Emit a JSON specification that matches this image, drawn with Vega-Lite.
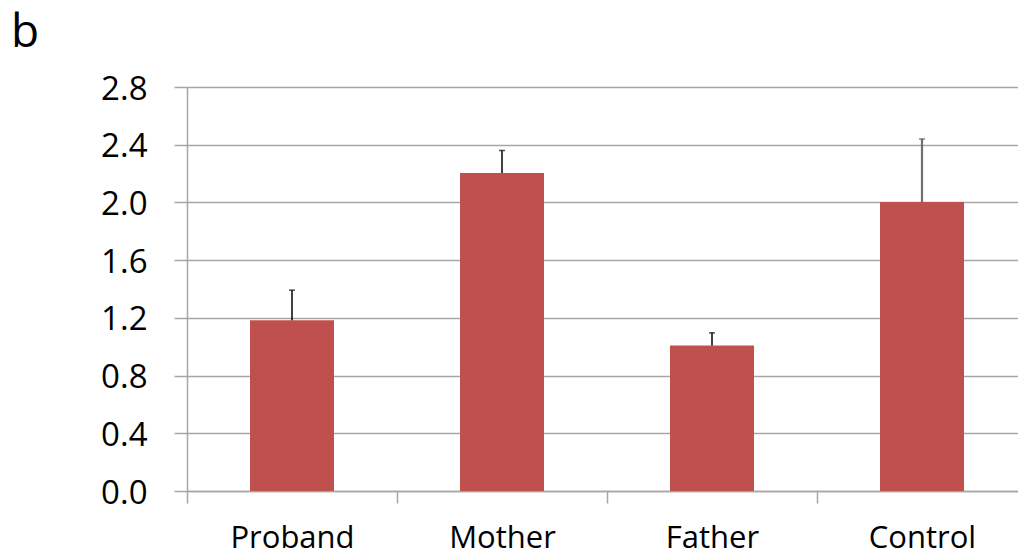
{
  "$schema": "https://vega.github.io/schema/vega-lite/v6.json",
  "autosize": "none",
  "width": 831,
  "height": 404,
  "padding": {"left": 187, "top": 87, "right": 0, "bottom": 63},
  "background": "white",
  "config": {
    "view": {"stroke": null},
    "font": "Open Sans"
  },
  "title": {
    "text": "b",
    "anchor": "start",
    "frame": "group",
    "fontSize": 46,
    "fontWeight": "normal",
    "font": "Open Sans",
    "color": "#000000",
    "offset": 16,
    "dx": -176
  },
  "data": {
    "values": [
      {"group": "Proband", "value": 1.184, "upper": 1.392},
      {"group": "Mother", "value": 2.204, "upper": 2.36},
      {"group": "Father", "value": 1.009, "upper": 1.096},
      {"group": "Control", "value": 2.003, "upper": 2.44}
    ]
  },
  "encoding": {
    "x": {
      "field": "group",
      "type": "nominal",
      "sort": null,
      "scale": {"range": [0, 840], "paddingInner": 0, "paddingOuter": 0},
      "axis": {
        "title": null,
        "labelAngle": 0,
        "labelFontSize": 31,
        "labelColor": "#000000",
        "labelPadding": 20,
        "tickBand": "extent",
        "tickSize": 12,
        "tickColor": "#a6a6a6",
        "tickWidth": 1.5,
        "domainColor": "#a6a6a6",
        "domainWidth": 1.5,
        "grid": false
      }
    }
  },
  "layer": [
    {
      "mark": {"type": "bar", "color": "#C0504D", "width": {"band": 0.4}},
      "encoding": {
        "y": {
          "field": "value",
          "type": "quantitative",
          "scale": {"domain": [0, 2.8], "nice": false},
          "axis": {
            "title": null,
            "values": [0, 0.4, 0.8, 1.2, 1.6, 2.0, 2.4, 2.8],
            "format": ".1f",
            "labelFontSize": 33,
            "labelColor": "#000000",
            "labelPadding": 27,
            "labelOffset": 2,
            "tickSize": 13,
            "tickColor": "#a6a6a6",
            "tickWidth": 1.5,
            "domainColor": "#a6a6a6",
            "domainWidth": 1.5,
            "grid": true,
            "gridColor": "#a6a6a6",
            "gridWidth": 1.5
          }
        }
      }
    },
    {
      "mark": {"type": "rule"},
      "encoding": {
        "y": {"field": "value", "type": "quantitative"},
        "y2": {"field": "upper"},
        "color": {
          "condition": {"test": "datum.group === 'Control'", "value": "#707070"},
          "value": "#000000"
        },
        "strokeWidth": {
          "condition": {"test": "datum.group === 'Control'", "value": 2.2},
          "value": 1.5
        }
      }
    },
    {
      "mark": {"type": "tick", "orient": "horizontal", "size": 6, "thickness": 1.5},
      "encoding": {
        "y": {"field": "upper", "type": "quantitative"},
        "color": {
          "condition": {"test": "datum.group === 'Control'", "value": "#505050"},
          "value": "#000000"
        }
      }
    }
  ]
}
